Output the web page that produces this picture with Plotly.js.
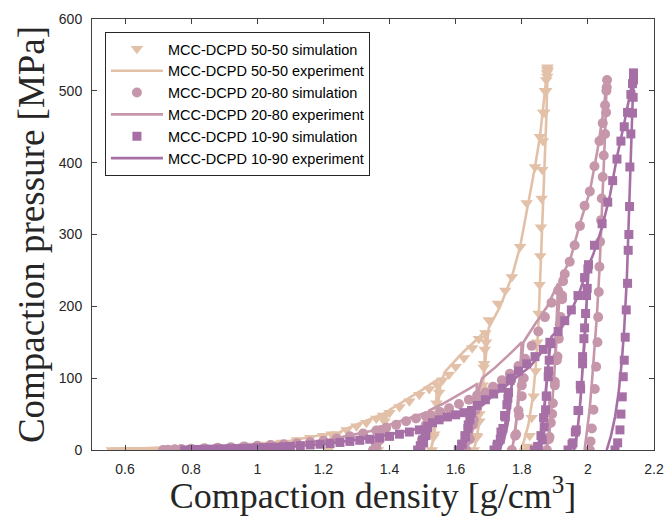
<!DOCTYPE html>
<html><head><meta charset="utf-8">
<script src="https://cdn.plot.ly/plotly-3.0.1.min.js"></script>
<style>html,body{margin:0;padding:0;background:#fff}#chart{width:665px;height:516px}</style>
</head><body><div id="chart"></div>
<script>
// Series names (legend order)
const seriesNames = [
  'MCC-DCPD 50-50 simulation', 'MCC-DCPD 50-50 experiment',
  'MCC-DCPD 20-80 simulation', 'MCC-DCPD 20-80 experiment',
  'MCC-DCPD 10-90 simulation', 'MCC-DCPD 10-90 experiment'
];
const xTicks = [0.6, 0.8, 1, 1.2, 1.4, 1.6, 1.8, 2, 2.2];
const yTicks = [0, 100, 200, 300, 400, 500, 600];

// [density g/cm3, pressure MPa]
const tanSim = [[0.56,0],[0.575,0],[0.59,0.1],[0.605,0.2],[0.62,0.3],[0.635,0.4],[0.65,0.5],[0.665,0.5],[0.68,0.6],[0.695,0.7],[0.71,0.9],[0.73,1.1],[0.75,1.3],[0.78,1.7],[0.81,2.1],[0.84,2.6],[0.87,3.1],[0.9,3.8],[0.93,4.5],[0.96,5.4],[0.99,6.3],[1.02,7.5],[1.05,9],[1.075,10.5],
 [1.072,4],[1.068,0],[1.075,5],[1.09,10],[1.12,14],[1.16,17],[1.2,20],[1.225,22],
 [1.222,10],[1.215,0],[1.222,10],[1.24,22],[1.27,28],[1.3,33],[1.33,38],[1.36,44],[1.38,48],
 [1.376,30],[1.37,12],[1.365,0],[1.372,15],[1.385,40],[1.4,52],[1.43,60],[1.46,68],[1.49,77],[1.52,85],[1.545,90],
 [1.542,65],[1.538,40],[1.533,18],[1.528,0],[1.535,22],[1.542,50],[1.55,80],[1.56,97],[1.58,105],[1.6,116],[1.625,128],[1.65,142],[1.67,155],[1.69,163],
 [1.688,140],[1.685,115],[1.682,90],[1.678,65],[1.672,40],[1.665,18],[1.655,0],[1.663,20],[1.672,50],[1.68,85],[1.686,120],[1.692,150],[1.7,181],[1.728,204],[1.75,222],[1.77,241],[1.795,283],[1.815,344],[1.84,394],[1.855,436],[1.865,470],[1.87,500],[1.874,515],[1.876,525],[1.877,530],[1.878,533],[1.878,528],[1.877,520],
 [1.874,500],[1.868,470],[1.864,430],[1.862,390],[1.86,350],[1.858,310],[1.856,270],[1.854,230],[1.851,190],[1.847,150],[1.842,110],[1.836,75],[1.83,45],[1.824,20],[1.818,5],[1.815,0]];
const tanExp = [[0.57,0],[0.62,0.3],[0.7,0.8],[0.8,2],[0.9,4],[1.0,7],[1.08,11],
 [1.076,5],[1.068,0],[1.074,4],[1.085,10],[1.1,13],[1.15,17],[1.2,21],[1.23,24],
 [1.226,12],[1.215,0],[1.222,8],[1.235,20],[1.26,28],[1.3,35],[1.35,44],[1.385,51],
 [1.38,30],[1.372,12],[1.365,0],[1.372,14],[1.385,38],[1.4,56],[1.44,67],[1.5,84],[1.545,98],
 [1.542,65],[1.537,35],[1.53,12],[1.525,0],[1.533,15],[1.545,55],[1.555,95],[1.57,110],[1.62,135],[1.66,152],[1.69,166],
 [1.687,120],[1.681,80],[1.672,40],[1.663,15],[1.655,0],[1.665,20],[1.678,70],[1.69,130],[1.7,170],[1.734,199],[1.77,241],[1.795,283],[1.815,330],[1.84,394],[1.855,436],[1.868,490],[1.878,533],
 [1.875,470],[1.87,410],[1.865,350],[1.86,290],[1.855,230],[1.85,170],[1.843,120],[1.834,75],[1.82,35],[1.805,10],[1.795,0]];

const mauveSim = [[0.715,0],[0.73,0.5],[0.75,1],[0.77,1.3],[0.8,1.8],[0.84,2.5],[0.88,3.2],[0.92,4],[0.96,5],[1.0,6],[1.04,7],[1.08,8],[1.12,9.5],[1.16,11],[1.2,13],[1.24,16],[1.28,19],[1.32,23],[1.36,27],[1.375,28],
 [1.37,14],[1.36,4],[1.35,0],[1.358,10],[1.37,22],[1.39,31],[1.42,35],[1.45,40],[1.48,44],[1.51,47],
 [1.505,30],[1.498,14],[1.49,0],[1.498,14],[1.51,35],[1.525,48],[1.553,53],[1.58,58],[1.61,64],[1.64,70],[1.665,76],
 [1.66,55],[1.652,35],[1.643,15],[1.632,0],[1.642,15],[1.655,42],[1.668,70],[1.69,80],[1.713,88],[1.74,97],[1.764,106],[1.79,117],[1.81,127],
 [1.806,100],[1.8,75],[1.792,48],[1.783,22],[1.77,0],[1.78,20],[1.79,55],[1.8,90],[1.81,125],[1.83,145],[1.85,165],[1.87,185],[1.89,205],[1.91,222],[1.925,235],
 [1.922,210],[1.918,185],[1.912,155],[1.906,125],[1.9,95],[1.894,65],[1.888,38],[1.882,15],[1.876,0],[1.884,18],[1.892,50],[1.9,90],[1.908,130],[1.915,175],[1.922,215],[1.93,245],[1.945,262],[1.96,285],[1.976,312],[1.99,340],[2.006,360],[2.02,395],[2.035,430],[2.045,455],[2.052,480],[2.056,500],[2.058,515],[2.057,505],
 [2.055,470],[2.052,440],[2.048,410],[2.045,380],[2.042,350],[2.04,320],[2.037,290],[2.035,255],[2.033,220],[2.031,185],[2.029,150],[2.025,116],[2.021,85],[2.017,56],[2.012,30],[2.008,12],[2.006,0]];
const mauveExp = [[0.72,0],[0.8,1],[0.9,2.5],[1.0,5],[1.1,8],[1.2,13],[1.28,20],[1.34,26],[1.375,30],
 [1.37,15],[1.362,5],[1.35,0],[1.358,8],[1.37,22],[1.385,33],[1.42,38],[1.47,46],[1.51,52],
 [1.505,30],[1.498,12],[1.49,0],[1.497,12],[1.508,35],[1.52,55],[1.56,64],[1.6,74],[1.64,85],[1.665,92],
 [1.66,60],[1.652,30],[1.642,10],[1.63,0],[1.64,12],[1.652,40],[1.665,75],[1.68,100],[1.72,115],[1.76,132],[1.8,150],
 [1.795,110],[1.79,75],[1.783,40],[1.776,15],[1.77,0],[1.778,18],[1.788,55],[1.797,100],[1.805,150],[1.84,175],[1.876,199],[1.91,232],
 [1.907,190],[1.903,150],[1.898,100],[1.89,55],[1.883,20],[1.875,0],[1.883,22],[1.893,70],[1.902,130],[1.91,190],[1.918,240],[1.946,264],[1.976,315],[2.006,360],[2.03,420],[2.048,475],[2.057,515],
 [2.052,440],[2.047,380],[2.043,325],[2.035,250],[2.027,185],[2.02,135],[2.012,93],[2.005,55],[1.998,25],[1.99,0]];

const purpleSim = [[0.78,0],[0.8,0.5],[0.82,0.8],[0.84,1],[0.86,1.2],[0.88,1.4],[0.9,1.6],[0.92,1.8],[0.94,2],[0.96,2.3],[0.98,2.6],[1.0,3],[1.02,3.3],[1.04,3.6],[1.06,4],[1.08,4.5],[1.1,5],[1.13,6],[1.16,7],[1.19,8],[1.22,9],[1.25,10.5],[1.28,12],[1.31,13.5],[1.34,15],[1.37,17],[1.4,19],[1.43,22],[1.46,25],[1.49,28],[1.515,31],
 [1.51,20],[1.503,10],[1.495,3],[1.485,0],[1.493,6],[1.5,14],[1.508,24],[1.516,33],[1.53,38],[1.55,42],[1.575,46],[1.6,49],[1.625,52],[1.648,55],
 [1.643,42],[1.637,30],[1.63,18],[1.62,8],[1.608,0],[1.618,8],[1.628,20],[1.638,35],[1.648,52],[1.665,62],[1.69,70],[1.715,78],[1.74,86],[1.765,97],
 [1.76,80],[1.755,63],[1.75,46],[1.743,30],[1.735,15],[1.725,5],[1.716,0],[1.726,8],[1.737,25],[1.748,48],[1.758,72],[1.768,100],[1.79,110],[1.815,120],[1.84,130],[1.865,140],[1.885,150],
 [1.883,125],[1.88,102],[1.875,75],[1.872,56],[1.868,32],[1.862,14],[1.85,4],[1.838,0],[1.848,5],[1.858,20],[1.866,45],[1.874,75],[1.881,110],[1.888,148],[1.91,165],[1.93,180],[1.95,195],[1.97,215],[1.99,240],[2.0,252],
 [1.998,225],[1.993,190],[1.988,155],[1.984,120],[1.978,85],[1.972,55],[1.965,28],[1.955,10],[1.94,0],[1.952,8],[1.962,25],[1.97,55],[1.977,90],[1.984,130],[1.99,170],[1.996,215],[2.002,258],[2.02,285],[2.043,315],[2.06,345],[2.075,375],[2.088,405],[2.1,430],[2.11,450],[2.12,470],[2.13,495],[2.135,510],[2.138,525],[2.138,515],
 [2.137,491],[2.135,469],[2.13,440],[2.127,394],[2.126,339],[2.124,300],[2.122,278],[2.12,232],[2.116,195],[2.113,157],[2.11,125],[2.107,102],[2.104,74],[2.1,50],[2.097,28],[2.09,10],[2.082,0]];
const purpleExp = [[0.78,0],[0.85,0.8],[0.9,1.5],[1.0,3],[1.1,5],[1.2,8],[1.28,13],[1.37,19],[1.45,26],[1.52,33],
 [1.515,18],[1.505,7],[1.49,0],[1.5,8],[1.512,22],[1.527,35],[1.574,44],[1.62,52],[1.65,57],
 [1.645,35],[1.635,15],[1.62,0],[1.632,14],[1.645,38],[1.66,60],[1.683,63],[1.704,72],[1.74,85],[1.77,96],
 [1.765,65],[1.757,35],[1.745,12],[1.73,0],[1.742,15],[1.756,50],[1.77,90],[1.78,100],[1.825,116],[1.855,133],[1.885,152],
 [1.88,115],[1.873,75],[1.865,40],[1.855,15],[1.845,0],[1.856,18],[1.868,60],[1.88,120],[1.89,158],[1.92,172],[1.946,190],[1.975,220],[2.0,255],
 [1.996,200],[1.99,150],[1.983,100],[1.975,55],[1.967,20],[1.958,0],[1.968,25],[1.978,70],[1.988,140],[1.996,210],[2.003,258],[2.016,272],[2.043,310],[2.067,355],[2.088,408],[2.11,455],[2.128,495],[2.14,525],
 [2.135,480],[2.13,400],[2.125,320],[2.118,240],[2.11,170],[2.103,125],[2.093,80],[2.082,46],[2.07,20],[2.057,0]];

const colTan = '#E2C1A8', colMauve = '#C697AB', colPurple = '#A670A6';
const xs = a => a.map(p => p[0]);
const ys = a => a.map(p => p[1]);

function simTrace(data, name, symbol, size, color) {
  return {x: xs(data), y: ys(data), name: name, type: 'scatter', mode: 'markers',
    marker: {symbol: symbol, size: size, color: color, line: {width: 0}}};
}
function expTrace(data, name, color) {
  return {x: xs(data), y: ys(data), name: name, type: 'scatter', mode: 'lines',
    line: {color: color, width: 2.6}};
}

const traces = [
  simTrace(tanSim, seriesNames[0], 'triangle-down', 11, colTan),
  expTrace(tanExp, seriesNames[1], colTan),
  simTrace(mauveSim, seriesNames[2], 'circle', 10, colMauve),
  expTrace(mauveExp, seriesNames[3], colMauve),
  simTrace(purpleSim, seriesNames[4], 'square', 9, colPurple),
  expTrace(purpleExp, seriesNames[5], colPurple)
];

const axisCommon = {
  showgrid: false, zeroline: false, showline: true, linecolor: '#404040', linewidth: 1,
  mirror: 'ticks', ticks: 'inside', ticklen: 5, tickcolor: '#404040', tickwidth: 1,
  tickfont: {family: 'Liberation Sans, Arial, sans-serif', size: 14, color: '#262626'}
};

const layout = {
  width: 665, height: 516,
  margin: {l: 92, r: 11, t: 19, b: 66},
  paper_bgcolor: '#fff', plot_bgcolor: '#fff',
  showlegend: true,
  legend: {x: 0.023, y: 0.97, xanchor: 'left', yanchor: 'top',
    bgcolor: '#fff', bordercolor: '#262626', borderwidth: 1,
    font: {family: 'Liberation Sans, Arial, sans-serif', size: 14.5, color: '#000'},
    itemwidth: 52, tracegroupgap: 0},
  xaxis: Object.assign({}, axisCommon, {
    range: [0.5, 2.2], tickvals: xTicks, ticktext: xTicks.map(String), ticklabelstandoff: 6,
    title: {text: 'Compaction density [g/cm<sup>3</sup>]', standoff: 9,
      font: {family: 'Liberation Serif, serif', size: 36, color: '#262626'}}
  }),
  yaxis: Object.assign({}, axisCommon, {
    range: [0, 600], tickvals: yTicks, ticktext: yTicks.map(String), ticklabelstandoff: 6,
    title: {text: 'Compaction pressure [MPa]', standoff: 2,
      font: {family: 'Liberation Serif, serif', size: 37, color: '#262626'}}
  })
};

Plotly.newPlot('chart', traces, layout, {displayModeBar: false, staticPlot: true});
</script>
</body></html>
